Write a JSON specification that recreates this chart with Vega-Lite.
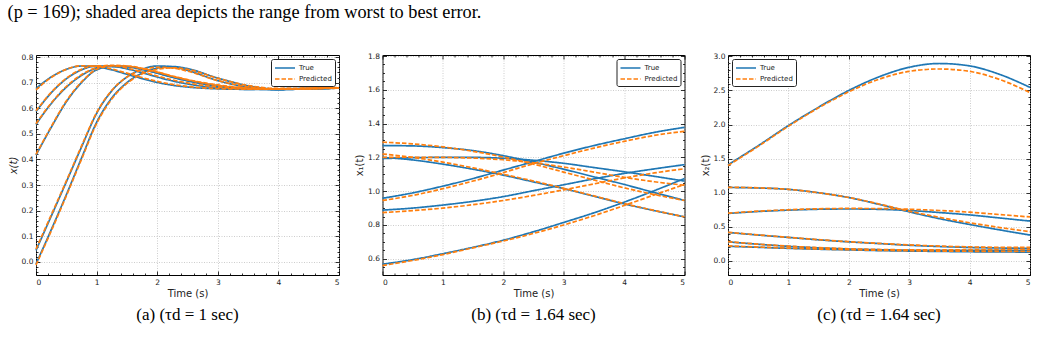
{
"$schema": "https://vega.github.io/schema/vega-lite/v6.json",
"background": "white",
"padding": {"left": 7, "top": 2, "right": 5, "bottom": 3},
"title": {"text": "(p = 169); shaded area depicts the range from worst to best error.", "anchor": "start", "font": "Liberation Serif", "fontSize": 18.3, "fontWeight": "normal", "color": "#000", "offset": 29.7},
"config": {
  "view": {"stroke": "#000", "strokeWidth": 1},
  "font": "DejaVu Sans",
  "axis": {"labelFont": "DejaVu Sans", "labelFontSize": 7.5, "labelColor": "#222", "titleFont": "DejaVu Sans", "titleFontSize": 10, "titleFontWeight": "normal", "titleColor": "#222", "tickSize": -4, "tickColor": "#000", "tickWidth": 0.8, "domain": false, "gridColor": "#b0b0b0", "gridDash": [1, 1.5], "gridWidth": 0.8, "gridOpacity": 0.8, "labelPadding": 7, "titlePadding": 3},
  "legend": {"offset": 4, "fillColor": "white", "strokeColor": "#222", "strokeWidth": 1, "cornerRadius": 2, "padding": 3, "labelFont": "DejaVu Sans", "labelFontSize": 7, "labelColor": "#222", "symbolType": "M-1,0H3", "symbolSize": 100, "symbolStrokeWidth": 1.6, "labelOffset": 13, "rowPadding": 1},
  "line": {"strokeWidth": 1.7, "interpolate": "monotone"}
},
"datasets": {
"a": [
{"c":1,"s":"True","t":0,"v":0.677},{"c":1,"s":"True","t":0.25,"v":0.722},{"c":1,"s":"True","t":0.5,"v":0.752},{"c":1,"s":"True","t":0.75,"v":0.765},{"c":1,"s":"True","t":1,"v":0.762},{"c":1,"s":"True","t":1.25,"v":0.750},{"c":1,"s":"True","t":1.5,"v":0.733},{"c":1,"s":"True","t":1.75,"v":0.716},{"c":1,"s":"True","t":2,"v":0.701},{"c":1,"s":"True","t":2.25,"v":0.690},{"c":1,"s":"True","t":2.5,"v":0.683},{"c":1,"s":"True","t":3,"v":0.676},{"c":1,"s":"True","t":3.5,"v":0.674},{"c":1,"s":"True","t":4,"v":0.676},{"c":1,"s":"True","t":4.5,"v":0.678},{"c":1,"s":"True","t":5,"v":0.680},
{"c":2,"s":"True","t":0,"v":0.587},{"c":2,"s":"True","t":0.25,"v":0.660},{"c":2,"s":"True","t":0.5,"v":0.715},{"c":2,"s":"True","t":0.75,"v":0.750},{"c":2,"s":"True","t":1,"v":0.765},{"c":2,"s":"True","t":1.25,"v":0.764},{"c":2,"s":"True","t":1.5,"v":0.754},{"c":2,"s":"True","t":1.75,"v":0.739},{"c":2,"s":"True","t":2,"v":0.722},{"c":2,"s":"True","t":2.25,"v":0.707},{"c":2,"s":"True","t":2.5,"v":0.695},{"c":2,"s":"True","t":3,"v":0.680},{"c":2,"s":"True","t":3.5,"v":0.674},{"c":2,"s":"True","t":4,"v":0.674},{"c":2,"s":"True","t":4.5,"v":0.677},{"c":2,"s":"True","t":5,"v":0.679},
{"c":3,"s":"True","t":0,"v":0.537},{"c":3,"s":"True","t":0.25,"v":0.618},{"c":3,"s":"True","t":0.5,"v":0.682},{"c":3,"s":"True","t":0.75,"v":0.728},{"c":3,"s":"True","t":1,"v":0.757},{"c":3,"s":"True","t":1.25,"v":0.766},{"c":3,"s":"True","t":1.5,"v":0.763},{"c":3,"s":"True","t":1.75,"v":0.752},{"c":3,"s":"True","t":2,"v":0.737},{"c":3,"s":"True","t":2.25,"v":0.721},{"c":3,"s":"True","t":2.5,"v":0.707},{"c":3,"s":"True","t":3,"v":0.686},{"c":3,"s":"True","t":3.5,"v":0.676},{"c":3,"s":"True","t":4,"v":0.673},{"c":3,"s":"True","t":4.5,"v":0.676},{"c":3,"s":"True","t":5,"v":0.679},
{"c":4,"s":"True","t":0,"v":0.417},{"c":4,"s":"True","t":0.25,"v":0.525},{"c":4,"s":"True","t":0.5,"v":0.625},{"c":4,"s":"True","t":0.75,"v":0.700},{"c":4,"s":"True","t":1,"v":0.750},{"c":4,"s":"True","t":1.25,"v":0.763},{"c":4,"s":"True","t":1.5,"v":0.762},{"c":4,"s":"True","t":1.75,"v":0.752},{"c":4,"s":"True","t":2,"v":0.738},{"c":4,"s":"True","t":2.25,"v":0.722},{"c":4,"s":"True","t":2.5,"v":0.708},{"c":4,"s":"True","t":3,"v":0.688},{"c":4,"s":"True","t":3.5,"v":0.677},{"c":4,"s":"True","t":4,"v":0.674},{"c":4,"s":"True","t":4.5,"v":0.676},{"c":4,"s":"True","t":5,"v":0.679},
{"c":5,"s":"True","t":0,"v":0.045},{"c":5,"s":"True","t":0.25,"v":0.178},{"c":5,"s":"True","t":0.5,"v":0.312},{"c":5,"s":"True","t":0.75,"v":0.448},{"c":5,"s":"True","t":1,"v":0.580},{"c":5,"s":"True","t":1.25,"v":0.668},{"c":5,"s":"True","t":1.5,"v":0.722},{"c":5,"s":"True","t":1.75,"v":0.752},{"c":5,"s":"True","t":2,"v":0.765},{"c":5,"s":"True","t":2.25,"v":0.762},{"c":5,"s":"True","t":2.5,"v":0.748},{"c":5,"s":"True","t":3,"v":0.708},{"c":5,"s":"True","t":3.5,"v":0.682},{"c":5,"s":"True","t":4,"v":0.673},{"c":5,"s":"True","t":4.5,"v":0.676},{"c":5,"s":"True","t":5,"v":0.680},
{"c":6,"s":"True","t":0,"v":-0.008},{"c":6,"s":"True","t":0.25,"v":0.125},{"c":6,"s":"True","t":0.5,"v":0.262},{"c":6,"s":"True","t":0.75,"v":0.405},{"c":6,"s":"True","t":1,"v":0.545},{"c":6,"s":"True","t":1.25,"v":0.640},{"c":6,"s":"True","t":1.5,"v":0.700},{"c":6,"s":"True","t":1.75,"v":0.737},{"c":6,"s":"True","t":2,"v":0.757},{"c":6,"s":"True","t":2.25,"v":0.763},{"c":6,"s":"True","t":2.5,"v":0.755},{"c":6,"s":"True","t":3,"v":0.718},{"c":6,"s":"True","t":3.5,"v":0.688},{"c":6,"s":"True","t":4,"v":0.675},{"c":6,"s":"True","t":4.5,"v":0.675},{"c":6,"s":"True","t":5,"v":0.679},
{"c":1,"s":"Predicted","t":0,"v":0.672},{"c":1,"s":"Predicted","t":0.25,"v":0.720},{"c":1,"s":"Predicted","t":0.5,"v":0.752},{"c":1,"s":"Predicted","t":0.75,"v":0.766},{"c":1,"s":"Predicted","t":1,"v":0.764},{"c":1,"s":"Predicted","t":1.25,"v":0.753},{"c":1,"s":"Predicted","t":1.5,"v":0.737},{"c":1,"s":"Predicted","t":1.75,"v":0.720},{"c":1,"s":"Predicted","t":2,"v":0.705},{"c":1,"s":"Predicted","t":2.25,"v":0.693},{"c":1,"s":"Predicted","t":2.5,"v":0.685},{"c":1,"s":"Predicted","t":3,"v":0.677},{"c":1,"s":"Predicted","t":3.5,"v":0.675},{"c":1,"s":"Predicted","t":4,"v":0.677},{"c":1,"s":"Predicted","t":4.5,"v":0.679},{"c":1,"s":"Predicted","t":5,"v":0.681},
{"c":2,"s":"Predicted","t":0,"v":0.590},{"c":2,"s":"Predicted","t":0.25,"v":0.662},{"c":2,"s":"Predicted","t":0.5,"v":0.717},{"c":2,"s":"Predicted","t":0.75,"v":0.752},{"c":2,"s":"Predicted","t":1,"v":0.766},{"c":2,"s":"Predicted","t":1.25,"v":0.766},{"c":2,"s":"Predicted","t":1.5,"v":0.757},{"c":2,"s":"Predicted","t":1.75,"v":0.742},{"c":2,"s":"Predicted","t":2,"v":0.726},{"c":2,"s":"Predicted","t":2.25,"v":0.711},{"c":2,"s":"Predicted","t":2.5,"v":0.699},{"c":2,"s":"Predicted","t":3,"v":0.683},{"c":2,"s":"Predicted","t":3.5,"v":0.676},{"c":2,"s":"Predicted","t":4,"v":0.675},{"c":2,"s":"Predicted","t":4.5,"v":0.677},{"c":2,"s":"Predicted","t":5,"v":0.680},
{"c":3,"s":"Predicted","t":0,"v":0.540},{"c":3,"s":"Predicted","t":0.25,"v":0.620},{"c":3,"s":"Predicted","t":0.5,"v":0.685},{"c":3,"s":"Predicted","t":0.75,"v":0.731},{"c":3,"s":"Predicted","t":1,"v":0.759},{"c":3,"s":"Predicted","t":1.25,"v":0.768},{"c":3,"s":"Predicted","t":1.5,"v":0.765},{"c":3,"s":"Predicted","t":1.75,"v":0.755},{"c":3,"s":"Predicted","t":2,"v":0.741},{"c":3,"s":"Predicted","t":2.25,"v":0.725},{"c":3,"s":"Predicted","t":2.5,"v":0.711},{"c":3,"s":"Predicted","t":3,"v":0.689},{"c":3,"s":"Predicted","t":3.5,"v":0.678},{"c":3,"s":"Predicted","t":4,"v":0.675},{"c":3,"s":"Predicted","t":4.5,"v":0.677},{"c":3,"s":"Predicted","t":5,"v":0.680},
{"c":4,"s":"Predicted","t":0,"v":0.420},{"c":4,"s":"Predicted","t":0.25,"v":0.528},{"c":4,"s":"Predicted","t":0.5,"v":0.628},{"c":4,"s":"Predicted","t":0.75,"v":0.703},{"c":4,"s":"Predicted","t":1,"v":0.752},{"c":4,"s":"Predicted","t":1.25,"v":0.765},{"c":4,"s":"Predicted","t":1.5,"v":0.765},{"c":4,"s":"Predicted","t":1.75,"v":0.756},{"c":4,"s":"Predicted","t":2,"v":0.742},{"c":4,"s":"Predicted","t":2.25,"v":0.726},{"c":4,"s":"Predicted","t":2.5,"v":0.712},{"c":4,"s":"Predicted","t":3,"v":0.691},{"c":4,"s":"Predicted","t":3.5,"v":0.679},{"c":4,"s":"Predicted","t":4,"v":0.675},{"c":4,"s":"Predicted","t":4.5,"v":0.677},{"c":4,"s":"Predicted","t":5,"v":0.680},
{"c":5,"s":"Predicted","t":0,"v":0.050},{"c":5,"s":"Predicted","t":0.25,"v":0.183},{"c":5,"s":"Predicted","t":0.5,"v":0.316},{"c":5,"s":"Predicted","t":0.75,"v":0.452},{"c":5,"s":"Predicted","t":1,"v":0.583},{"c":5,"s":"Predicted","t":1.25,"v":0.670},{"c":5,"s":"Predicted","t":1.5,"v":0.722},{"c":5,"s":"Predicted","t":1.75,"v":0.750},{"c":5,"s":"Predicted","t":2,"v":0.760},{"c":5,"s":"Predicted","t":2.25,"v":0.757},{"c":5,"s":"Predicted","t":2.5,"v":0.745},{"c":5,"s":"Predicted","t":3,"v":0.708},{"c":5,"s":"Predicted","t":3.5,"v":0.684},{"c":5,"s":"Predicted","t":4,"v":0.675},{"c":5,"s":"Predicted","t":4.5,"v":0.677},{"c":5,"s":"Predicted","t":5,"v":0.680},
{"c":6,"s":"Predicted","t":0,"v":-0.012},{"c":6,"s":"Predicted","t":0.25,"v":0.120},{"c":6,"s":"Predicted","t":0.5,"v":0.258},{"c":6,"s":"Predicted","t":0.75,"v":0.400},{"c":6,"s":"Predicted","t":1,"v":0.540},{"c":6,"s":"Predicted","t":1.25,"v":0.636},{"c":6,"s":"Predicted","t":1.5,"v":0.697},{"c":6,"s":"Predicted","t":1.75,"v":0.734},{"c":6,"s":"Predicted","t":2,"v":0.752},{"c":6,"s":"Predicted","t":2.25,"v":0.758},{"c":6,"s":"Predicted","t":2.5,"v":0.752},{"c":6,"s":"Predicted","t":3,"v":0.717},{"c":6,"s":"Predicted","t":3.5,"v":0.689},{"c":6,"s":"Predicted","t":4,"v":0.677},{"c":6,"s":"Predicted","t":4.5,"v":0.676},{"c":6,"s":"Predicted","t":5,"v":0.679}
],
"b": [
{"c":1,"s":"True","t":0,"v":0.958},{"c":1,"s":"True","t":0.5,"v":0.990},{"c":1,"s":"True","t":1,"v":1.030},{"c":1,"s":"True","t":1.5,"v":1.075},{"c":1,"s":"True","t":2,"v":1.125},{"c":1,"s":"True","t":2.5,"v":1.175},{"c":1,"s":"True","t":3,"v":1.225},{"c":1,"s":"True","t":3.5,"v":1.270},{"c":1,"s":"True","t":4,"v":1.310},{"c":1,"s":"True","t":4.5,"v":1.348},{"c":1,"s":"True","t":5,"v":1.378},
{"c":2,"s":"True","t":0,"v":0.888},{"c":2,"s":"True","t":0.5,"v":0.900},{"c":2,"s":"True","t":1,"v":0.918},{"c":2,"s":"True","t":1.5,"v":0.940},{"c":2,"s":"True","t":2,"v":0.968},{"c":2,"s":"True","t":2.5,"v":1.003},{"c":2,"s":"True","t":3,"v":1.038},{"c":2,"s":"True","t":3.5,"v":1.073},{"c":2,"s":"True","t":4,"v":1.105},{"c":2,"s":"True","t":4.5,"v":1.132},{"c":2,"s":"True","t":5,"v":1.157},
{"c":3,"s":"True","t":0,"v":0.568},{"c":3,"s":"True","t":0.5,"v":0.595},{"c":3,"s":"True","t":1,"v":0.630},{"c":3,"s":"True","t":1.5,"v":0.668},{"c":3,"s":"True","t":2,"v":0.710},{"c":3,"s":"True","t":2.5,"v":0.760},{"c":3,"s":"True","t":3,"v":0.815},{"c":3,"s":"True","t":3.5,"v":0.872},{"c":3,"s":"True","t":4,"v":0.935},{"c":3,"s":"True","t":4.5,"v":1.003},{"c":3,"s":"True","t":5,"v":1.075},
{"c":4,"s":"True","t":0,"v":1.270},{"c":4,"s":"True","t":0.5,"v":1.268},{"c":4,"s":"True","t":1,"v":1.258},{"c":4,"s":"True","t":1.5,"v":1.240},{"c":4,"s":"True","t":2,"v":1.210},{"c":4,"s":"True","t":2.5,"v":1.172},{"c":4,"s":"True","t":3,"v":1.130},{"c":4,"s":"True","t":3.5,"v":1.085},{"c":4,"s":"True","t":4,"v":1.040},{"c":4,"s":"True","t":4.5,"v":0.992},{"c":4,"s":"True","t":5,"v":0.945},
{"c":5,"s":"True","t":0,"v":1.193},{"c":5,"s":"True","t":0.5,"v":1.198},{"c":5,"s":"True","t":1,"v":1.200},{"c":5,"s":"True","t":1.5,"v":1.200},{"c":5,"s":"True","t":2,"v":1.195},{"c":5,"s":"True","t":2.5,"v":1.183},{"c":5,"s":"True","t":3,"v":1.165},{"c":5,"s":"True","t":3.5,"v":1.140},{"c":5,"s":"True","t":4,"v":1.115},{"c":5,"s":"True","t":4.5,"v":1.088},{"c":5,"s":"True","t":5,"v":1.060},
{"c":6,"s":"True","t":0,"v":1.200},{"c":6,"s":"True","t":0.5,"v":1.185},{"c":6,"s":"True","t":1,"v":1.160},{"c":6,"s":"True","t":1.5,"v":1.130},{"c":6,"s":"True","t":2,"v":1.095},{"c":6,"s":"True","t":2.5,"v":1.055},{"c":6,"s":"True","t":3,"v":1.015},{"c":6,"s":"True","t":3.5,"v":0.970},{"c":6,"s":"True","t":4,"v":0.925},{"c":6,"s":"True","t":4.5,"v":0.885},{"c":6,"s":"True","t":5,"v":0.848},
{"c":1,"s":"Predicted","t":0,"v":0.945},{"c":1,"s":"Predicted","t":0.5,"v":0.975},{"c":1,"s":"Predicted","t":1,"v":1.015},{"c":1,"s":"Predicted","t":1.5,"v":1.060},{"c":1,"s":"Predicted","t":2,"v":1.110},{"c":1,"s":"Predicted","t":2.5,"v":1.163},{"c":1,"s":"Predicted","t":3,"v":1.210},{"c":1,"s":"Predicted","t":3.5,"v":1.255},{"c":1,"s":"Predicted","t":4,"v":1.295},{"c":1,"s":"Predicted","t":4.5,"v":1.330},{"c":1,"s":"Predicted","t":5,"v":1.355},
{"c":2,"s":"Predicted","t":0,"v":0.873},{"c":2,"s":"Predicted","t":0.5,"v":0.885},{"c":2,"s":"Predicted","t":1,"v":0.900},{"c":2,"s":"Predicted","t":1.5,"v":0.920},{"c":2,"s":"Predicted","t":2,"v":0.945},{"c":2,"s":"Predicted","t":2.5,"v":0.975},{"c":2,"s":"Predicted","t":3,"v":1.008},{"c":2,"s":"Predicted","t":3.5,"v":1.043},{"c":2,"s":"Predicted","t":4,"v":1.078},{"c":2,"s":"Predicted","t":4.5,"v":1.108},{"c":2,"s":"Predicted","t":5,"v":1.133},
{"c":3,"s":"Predicted","t":0,"v":0.560},{"c":3,"s":"Predicted","t":0.5,"v":0.590},{"c":3,"s":"Predicted","t":1,"v":0.625},{"c":3,"s":"Predicted","t":1.5,"v":0.665},{"c":3,"s":"Predicted","t":2,"v":0.705},{"c":3,"s":"Predicted","t":2.5,"v":0.750},{"c":3,"s":"Predicted","t":3,"v":0.800},{"c":3,"s":"Predicted","t":3.5,"v":0.855},{"c":3,"s":"Predicted","t":4,"v":0.915},{"c":3,"s":"Predicted","t":4.5,"v":0.978},{"c":3,"s":"Predicted","t":5,"v":1.040},
{"c":4,"s":"Predicted","t":0,"v":1.290},{"c":4,"s":"Predicted","t":0.5,"v":1.280},{"c":4,"s":"Predicted","t":1,"v":1.262},{"c":4,"s":"Predicted","t":1.5,"v":1.236},{"c":4,"s":"Predicted","t":2,"v":1.202},{"c":4,"s":"Predicted","t":2.5,"v":1.160},{"c":4,"s":"Predicted","t":3,"v":1.113},{"c":4,"s":"Predicted","t":3.5,"v":1.066},{"c":4,"s":"Predicted","t":4,"v":1.020},{"c":4,"s":"Predicted","t":4.5,"v":0.980},{"c":4,"s":"Predicted","t":5,"v":0.945},
{"c":5,"s":"Predicted","t":0,"v":1.200},{"c":5,"s":"Predicted","t":0.5,"v":1.201},{"c":5,"s":"Predicted","t":1,"v":1.200},{"c":5,"s":"Predicted","t":1.5,"v":1.196},{"c":5,"s":"Predicted","t":2,"v":1.186},{"c":5,"s":"Predicted","t":2.5,"v":1.168},{"c":5,"s":"Predicted","t":3,"v":1.143},{"c":5,"s":"Predicted","t":3.5,"v":1.113},{"c":5,"s":"Predicted","t":4,"v":1.082},{"c":5,"s":"Predicted","t":4.5,"v":1.056},{"c":5,"s":"Predicted","t":5,"v":1.035},
{"c":6,"s":"Predicted","t":0,"v":1.220},{"c":6,"s":"Predicted","t":0.5,"v":1.200},{"c":6,"s":"Predicted","t":1,"v":1.172},{"c":6,"s":"Predicted","t":1.5,"v":1.138},{"c":6,"s":"Predicted","t":2,"v":1.100},{"c":6,"s":"Predicted","t":2.5,"v":1.060},{"c":6,"s":"Predicted","t":3,"v":1.017},{"c":6,"s":"Predicted","t":3.5,"v":0.972},{"c":6,"s":"Predicted","t":4,"v":0.927},{"c":6,"s":"Predicted","t":4.5,"v":0.886},{"c":6,"s":"Predicted","t":5,"v":0.848}
],
"c": [
{"c":1,"s":"True","t":0,"v":1.410},{"c":1,"s":"True","t":0.5,"v":1.690},{"c":1,"s":"True","t":1,"v":1.985},{"c":1,"s":"True","t":1.5,"v":2.255},{"c":1,"s":"True","t":2,"v":2.500},{"c":1,"s":"True","t":2.5,"v":2.700},{"c":1,"s":"True","t":3,"v":2.840},{"c":1,"s":"True","t":3.5,"v":2.895},{"c":1,"s":"True","t":4,"v":2.860},{"c":1,"s":"True","t":4.5,"v":2.735},{"c":1,"s":"True","t":5,"v":2.545},
{"c":2,"s":"True","t":0,"v":1.078},{"c":2,"s":"True","t":0.5,"v":1.070},{"c":2,"s":"True","t":1,"v":1.050},{"c":2,"s":"True","t":1.5,"v":1.000},{"c":2,"s":"True","t":2,"v":0.930},{"c":2,"s":"True","t":2.5,"v":0.830},{"c":2,"s":"True","t":3,"v":0.720},{"c":2,"s":"True","t":3.5,"v":0.620},{"c":2,"s":"True","t":4,"v":0.535},{"c":2,"s":"True","t":4.5,"v":0.455},{"c":2,"s":"True","t":5,"v":0.380},
{"c":3,"s":"True","t":0,"v":0.697},{"c":3,"s":"True","t":0.5,"v":0.725},{"c":3,"s":"True","t":1,"v":0.745},{"c":3,"s":"True","t":1.5,"v":0.758},{"c":3,"s":"True","t":2,"v":0.762},{"c":3,"s":"True","t":2.5,"v":0.757},{"c":3,"s":"True","t":3,"v":0.740},{"c":3,"s":"True","t":3.5,"v":0.710},{"c":3,"s":"True","t":4,"v":0.675},{"c":3,"s":"True","t":4.5,"v":0.630},{"c":3,"s":"True","t":5,"v":0.585},
{"c":4,"s":"True","t":0,"v":0.417},{"c":4,"s":"True","t":0.5,"v":0.380},{"c":4,"s":"True","t":1,"v":0.345},{"c":4,"s":"True","t":1.5,"v":0.310},{"c":4,"s":"True","t":2,"v":0.280},{"c":4,"s":"True","t":2.5,"v":0.255},{"c":4,"s":"True","t":3,"v":0.230},{"c":4,"s":"True","t":3.5,"v":0.212},{"c":4,"s":"True","t":4,"v":0.198},{"c":4,"s":"True","t":4.5,"v":0.190},{"c":4,"s":"True","t":5,"v":0.185},
{"c":5,"s":"True","t":0,"v":0.280},{"c":5,"s":"True","t":0.5,"v":0.245},{"c":5,"s":"True","t":1,"v":0.215},{"c":5,"s":"True","t":1.5,"v":0.192},{"c":5,"s":"True","t":2,"v":0.175},{"c":5,"s":"True","t":2.5,"v":0.165},{"c":5,"s":"True","t":3,"v":0.158},{"c":5,"s":"True","t":3.5,"v":0.155},{"c":5,"s":"True","t":4,"v":0.155},{"c":5,"s":"True","t":4.5,"v":0.155},{"c":5,"s":"True","t":5,"v":0.157},
{"c":6,"s":"True","t":0,"v":0.215},{"c":6,"s":"True","t":0.5,"v":0.200},{"c":6,"s":"True","t":1,"v":0.185},{"c":6,"s":"True","t":1.5,"v":0.172},{"c":6,"s":"True","t":2,"v":0.162},{"c":6,"s":"True","t":2.5,"v":0.152},{"c":6,"s":"True","t":3,"v":0.145},{"c":6,"s":"True","t":3.5,"v":0.140},{"c":6,"s":"True","t":4,"v":0.135},{"c":6,"s":"True","t":4.5,"v":0.132},{"c":6,"s":"True","t":5,"v":0.130},
{"c":1,"s":"Predicted","t":0,"v":1.400},{"c":1,"s":"Predicted","t":0.5,"v":1.680},{"c":1,"s":"Predicted","t":1,"v":1.975},{"c":1,"s":"Predicted","t":1.5,"v":2.245},{"c":1,"s":"Predicted","t":2,"v":2.480},{"c":1,"s":"Predicted","t":2.5,"v":2.665},{"c":1,"s":"Predicted","t":3,"v":2.780},{"c":1,"s":"Predicted","t":3.5,"v":2.815},{"c":1,"s":"Predicted","t":4,"v":2.780},{"c":1,"s":"Predicted","t":4.5,"v":2.660},{"c":1,"s":"Predicted","t":5,"v":2.470},
{"c":2,"s":"Predicted","t":0,"v":1.080},{"c":2,"s":"Predicted","t":0.5,"v":1.072},{"c":2,"s":"Predicted","t":1,"v":1.050},{"c":2,"s":"Predicted","t":1.5,"v":1.000},{"c":2,"s":"Predicted","t":2,"v":0.930},{"c":2,"s":"Predicted","t":2.5,"v":0.835},{"c":2,"s":"Predicted","t":3,"v":0.730},{"c":2,"s":"Predicted","t":3.5,"v":0.640},{"c":2,"s":"Predicted","t":4,"v":0.560},{"c":2,"s":"Predicted","t":4.5,"v":0.490},{"c":2,"s":"Predicted","t":5,"v":0.430},
{"c":3,"s":"Predicted","t":0,"v":0.700},{"c":3,"s":"Predicted","t":0.5,"v":0.730},{"c":3,"s":"Predicted","t":1,"v":0.750},{"c":3,"s":"Predicted","t":1.5,"v":0.765},{"c":3,"s":"Predicted","t":2,"v":0.770},{"c":3,"s":"Predicted","t":2.5,"v":0.768},{"c":3,"s":"Predicted","t":3,"v":0.758},{"c":3,"s":"Predicted","t":3.5,"v":0.740},{"c":3,"s":"Predicted","t":4,"v":0.715},{"c":3,"s":"Predicted","t":4.5,"v":0.680},{"c":3,"s":"Predicted","t":5,"v":0.645},
{"c":4,"s":"Predicted","t":0,"v":0.420},{"c":4,"s":"Predicted","t":0.5,"v":0.382},{"c":4,"s":"Predicted","t":1,"v":0.346},{"c":4,"s":"Predicted","t":1.5,"v":0.312},{"c":4,"s":"Predicted","t":2,"v":0.282},{"c":4,"s":"Predicted","t":2.5,"v":0.258},{"c":4,"s":"Predicted","t":3,"v":0.235},{"c":4,"s":"Predicted","t":3.5,"v":0.218},{"c":4,"s":"Predicted","t":4,"v":0.206},{"c":4,"s":"Predicted","t":4.5,"v":0.200},{"c":4,"s":"Predicted","t":5,"v":0.200},
{"c":5,"s":"Predicted","t":0,"v":0.283},{"c":5,"s":"Predicted","t":0.5,"v":0.247},{"c":5,"s":"Predicted","t":1,"v":0.217},{"c":5,"s":"Predicted","t":1.5,"v":0.195},{"c":5,"s":"Predicted","t":2,"v":0.178},{"c":5,"s":"Predicted","t":2.5,"v":0.168},{"c":5,"s":"Predicted","t":3,"v":0.163},{"c":5,"s":"Predicted","t":3.5,"v":0.162},{"c":5,"s":"Predicted","t":4,"v":0.165},{"c":5,"s":"Predicted","t":4.5,"v":0.168},{"c":5,"s":"Predicted","t":5,"v":0.172},
{"c":6,"s":"Predicted","t":0,"v":0.220},{"c":6,"s":"Predicted","t":0.5,"v":0.204},{"c":6,"s":"Predicted","t":1,"v":0.188},{"c":6,"s":"Predicted","t":1.5,"v":0.175},{"c":6,"s":"Predicted","t":2,"v":0.165},{"c":6,"s":"Predicted","t":2.5,"v":0.156},{"c":6,"s":"Predicted","t":3,"v":0.150},{"c":6,"s":"Predicted","t":3.5,"v":0.145},{"c":6,"s":"Predicted","t":4,"v":0.142},{"c":6,"s":"Predicted","t":4.5,"v":0.140},{"c":6,"s":"Predicted","t":5,"v":0.140}
]
},
"hconcat": [
{
  "width": 303, "height": 220,
  "title": {"text": "(a) (τd = 1 sec)", "orient": "bottom", "font": "Liberation Serif", "fontSize": 17, "fontWeight": "normal", "color": "#000", "offset": 8.5},
  "data": {"name": "a"},
  "layer": [
    {"transform": [{"filter": "datum.s == 'True'"}],
     "mark": {"type": "line"},
     "encoding": {
       "x": {"field": "t", "type": "quantitative", "scale": {"domain": [0, 5], "nice": false, "zero": false}, "axis": {"orient": "bottom", "values": [0,1,2,3,4,5], "title": "Time (s)", "grid": true}},
       "y": {"field": "v", "type": "quantitative", "scale": {"domain": [-0.051, 0.808], "nice": false, "zero": false}, "axis": {"orient": "left", "values": [0,0.1,0.2,0.3,0.4,0.5,0.6,0.7,0.8], "format": ".1f", "title": "x(t)", "titleFontStyle": "italic", "grid": true}},
       "color": {"field": "s", "type": "nominal", "scale": {"domain": ["True", "Predicted"], "range": ["#1f77b4", "#ff7f0e"]}, "legend": {"title": null, "orient": "top-right"}},
       "strokeDash": {"field": "s", "type": "nominal", "scale": {"domain": ["True", "Predicted"], "range": [[1, 0], [4.5, 2]]}, "legend": {"title": null, "orient": "top-right"}},
       "detail": {"field": "c", "type": "nominal"}
     }},
    {"transform": [{"filter": "datum.s == 'Predicted'"}],
     "mark": {"type": "line"},
     "encoding": {
       "x": {"field": "t", "type": "quantitative", "axis": {"orient": "top", "values": [0,1,2,3,4,5], "labels": false, "title": null, "grid": false}},
       "y": {"field": "v", "type": "quantitative", "axis": {"orient": "right", "values": [0,0.1,0.2,0.3,0.4,0.5,0.6,0.7,0.8], "labels": false, "title": null, "grid": false}},
       "color": {"field": "s", "type": "nominal"},
       "strokeDash": {"field": "s", "type": "nominal"},
       "detail": {"field": "c", "type": "nominal"}
     }},
    {"transform": [{"filter": "datum.s == 'True'"}],
     "mark": {"type": "line", "opacity": 0},
     "encoding": {
       "x": {"field": "t", "type": "quantitative", "axis": {"orient": "bottom", "values": [0.2,0.4,0.6,0.8,1.2,1.4,1.6,1.8,2.2,2.4,2.6,2.8,3.2,3.4,3.6,3.8,4.2,4.4,4.6,4.8], "labels": false, "title": null, "grid": false, "tickSize": -2}},
       "y": {"field": "v", "type": "quantitative", "axis": {"orient": "left", "values": [-0.04,-0.02,0.02,0.04,0.06,0.08,0.12,0.14,0.16,0.18,0.22,0.24,0.26,0.28,0.32,0.34,0.36,0.38,0.42,0.44,0.46,0.48,0.52,0.54,0.56,0.58,0.62,0.64,0.66,0.68,0.72,0.74,0.76,0.78], "labels": false, "title": null, "grid": false, "tickSize": -2}},
       "detail": {"field": "c", "type": "nominal"}
     }},
    {"transform": [{"filter": "datum.s == 'True'"}],
     "mark": {"type": "line", "opacity": 0},
     "encoding": {
       "x": {"field": "t", "type": "quantitative", "axis": {"orient": "top", "values": [0.2,0.4,0.6,0.8,1.2,1.4,1.6,1.8,2.2,2.4,2.6,2.8,3.2,3.4,3.6,3.8,4.2,4.4,4.6,4.8], "labels": false, "title": null, "grid": false, "tickSize": -2}},
       "y": {"field": "v", "type": "quantitative", "axis": {"orient": "right", "values": [-0.04,-0.02,0.02,0.04,0.06,0.08,0.12,0.14,0.16,0.18,0.22,0.24,0.26,0.28,0.32,0.34,0.36,0.38,0.42,0.44,0.46,0.48,0.52,0.54,0.56,0.58,0.62,0.64,0.66,0.68,0.72,0.74,0.76,0.78], "labels": false, "title": null, "grid": false, "tickSize": -2}},
       "detail": {"field": "c", "type": "nominal"}
     }}
  ],
  "resolve": {"axis": {"x": "independent", "y": "independent"}}
},
{
  "width": 302, "height": 220,
  "title": {"text": "(b) (τd = 1.64 sec)", "orient": "bottom", "font": "Liberation Serif", "fontSize": 17, "fontWeight": "normal", "color": "#000", "offset": 8.5},
  "data": {"name": "b"},
  "layer": [
    {"transform": [{"filter": "datum.s == 'True'"}],
     "mark": {"type": "line"},
     "encoding": {
       "x": {"field": "t", "type": "quantitative", "scale": {"domain": [0, 5], "nice": false, "zero": false}, "axis": {"orient": "bottom", "values": [0,1,2,3,4,5], "title": "Time (s)", "grid": true}},
       "y": {"field": "v", "type": "quantitative", "scale": {"domain": [0.504, 1.806], "nice": false, "zero": false}, "axis": {"orient": "left", "values": [0.6,0.8,1.0,1.2,1.4,1.6,1.8], "format": ".1f", "title": "x₁(t)", "grid": true}},
       "color": {"field": "s", "type": "nominal", "scale": {"domain": ["True", "Predicted"], "range": ["#1f77b4", "#ff7f0e"]}, "legend": {"title": null, "orient": "top-right"}},
       "strokeDash": {"field": "s", "type": "nominal", "scale": {"domain": ["True", "Predicted"], "range": [[1, 0], [4.5, 2]]}, "legend": {"title": null, "orient": "top-right"}},
       "detail": {"field": "c", "type": "nominal"}
     }},
    {"transform": [{"filter": "datum.s == 'Predicted'"}],
     "mark": {"type": "line"},
     "encoding": {
       "x": {"field": "t", "type": "quantitative", "axis": {"orient": "top", "values": [0,1,2,3,4,5], "labels": false, "title": null, "grid": false}},
       "y": {"field": "v", "type": "quantitative", "axis": {"orient": "right", "values": [0.6,0.8,1.0,1.2,1.4,1.6,1.8], "labels": false, "title": null, "grid": false}},
       "color": {"field": "s", "type": "nominal"},
       "strokeDash": {"field": "s", "type": "nominal"},
       "detail": {"field": "c", "type": "nominal"}
     }},
    {"transform": [{"filter": "datum.s == 'True'"}],
     "mark": {"type": "line", "opacity": 0},
     "encoding": {
       "x": {"field": "t", "type": "quantitative", "axis": {"orient": "bottom", "values": [0.2,0.4,0.6,0.8,1.2,1.4,1.6,1.8,2.2,2.4,2.6,2.8,3.2,3.4,3.6,3.8,4.2,4.4,4.6,4.8], "labels": false, "title": null, "grid": false, "tickSize": -2}},
       "y": {"field": "v", "type": "quantitative", "axis": {"orient": "left", "values": [0.55,0.65,0.7,0.75,0.85,0.9,0.95,1.05,1.1,1.15,1.25,1.3,1.35,1.45,1.5,1.55,1.65,1.7,1.75], "labels": false, "title": null, "grid": false, "tickSize": -2}},
       "detail": {"field": "c", "type": "nominal"}
     }},
    {"transform": [{"filter": "datum.s == 'True'"}],
     "mark": {"type": "line", "opacity": 0},
     "encoding": {
       "x": {"field": "t", "type": "quantitative", "axis": {"orient": "top", "values": [0.2,0.4,0.6,0.8,1.2,1.4,1.6,1.8,2.2,2.4,2.6,2.8,3.2,3.4,3.6,3.8,4.2,4.4,4.6,4.8], "labels": false, "title": null, "grid": false, "tickSize": -2}},
       "y": {"field": "v", "type": "quantitative", "axis": {"orient": "right", "values": [0.55,0.65,0.7,0.75,0.85,0.9,0.95,1.05,1.1,1.15,1.25,1.3,1.35,1.45,1.5,1.55,1.65,1.7,1.75], "labels": false, "title": null, "grid": false, "tickSize": -2}},
       "detail": {"field": "c", "type": "nominal"}
     }}
  ],
  "resolve": {"axis": {"x": "independent", "y": "independent"}}
},
{
  "width": 302, "height": 220,
  "title": {"text": "(c) (τd = 1.64 sec)", "orient": "bottom", "font": "Liberation Serif", "fontSize": 17, "fontWeight": "normal", "color": "#000", "offset": 8.5},
  "data": {"name": "c"},
  "layer": [
    {"transform": [{"filter": "datum.s == 'True'"}],
     "mark": {"type": "line"},
     "encoding": {
       "x": {"field": "t", "type": "quantitative", "scale": {"domain": [0, 5], "nice": false, "zero": false}, "axis": {"orient": "bottom", "values": [0,1,2,3,4,5], "title": "Time (s)", "grid": true}},
       "y": {"field": "v", "type": "quantitative", "scale": {"domain": [-0.206, 3.02], "nice": false, "zero": false}, "axis": {"orient": "left", "values": [0,0.5,1.0,1.5,2.0,2.5,3.0], "format": ".1f", "title": "x₂(t)", "grid": true}},
       "color": {"field": "s", "type": "nominal", "scale": {"domain": ["True", "Predicted"], "range": ["#1f77b4", "#ff7f0e"]}, "legend": {"title": null, "orient": "top-left"}},
       "strokeDash": {"field": "s", "type": "nominal", "scale": {"domain": ["True", "Predicted"], "range": [[1, 0], [4.5, 2]]}, "legend": {"title": null, "orient": "top-left"}},
       "detail": {"field": "c", "type": "nominal"}
     }},
    {"transform": [{"filter": "datum.s == 'Predicted'"}],
     "mark": {"type": "line"},
     "encoding": {
       "x": {"field": "t", "type": "quantitative", "axis": {"orient": "top", "values": [0,1,2,3,4,5], "labels": false, "title": null, "grid": false}},
       "y": {"field": "v", "type": "quantitative", "axis": {"orient": "right", "values": [0,0.5,1.0,1.5,2.0,2.5,3.0], "labels": false, "title": null, "grid": false}},
       "color": {"field": "s", "type": "nominal"},
       "strokeDash": {"field": "s", "type": "nominal"},
       "detail": {"field": "c", "type": "nominal"}
     }},
    {"transform": [{"filter": "datum.s == 'True'"}],
     "mark": {"type": "line", "opacity": 0},
     "encoding": {
       "x": {"field": "t", "type": "quantitative", "axis": {"orient": "bottom", "values": [0.2,0.4,0.6,0.8,1.2,1.4,1.6,1.8,2.2,2.4,2.6,2.8,3.2,3.4,3.6,3.8,4.2,4.4,4.6,4.8], "labels": false, "title": null, "grid": false, "tickSize": -2}},
       "y": {"field": "v", "type": "quantitative", "axis": {"orient": "left", "values": [-0.2,-0.1,0.1,0.2,0.3,0.4,0.6,0.7,0.8,0.9,1.1,1.2,1.3,1.4,1.6,1.7,1.8,1.9,2.1,2.2,2.3,2.4,2.6,2.7,2.8,2.9], "labels": false, "title": null, "grid": false, "tickSize": -2}},
       "detail": {"field": "c", "type": "nominal"}
     }},
    {"transform": [{"filter": "datum.s == 'True'"}],
     "mark": {"type": "line", "opacity": 0},
     "encoding": {
       "x": {"field": "t", "type": "quantitative", "axis": {"orient": "top", "values": [0.2,0.4,0.6,0.8,1.2,1.4,1.6,1.8,2.2,2.4,2.6,2.8,3.2,3.4,3.6,3.8,4.2,4.4,4.6,4.8], "labels": false, "title": null, "grid": false, "tickSize": -2}},
       "y": {"field": "v", "type": "quantitative", "axis": {"orient": "right", "values": [-0.2,-0.1,0.1,0.2,0.3,0.4,0.6,0.7,0.8,0.9,1.1,1.2,1.3,1.4,1.6,1.7,1.8,1.9,2.1,2.2,2.3,2.4,2.6,2.7,2.8,2.9], "labels": false, "title": null, "grid": false, "tickSize": -2}},
       "detail": {"field": "c", "type": "nominal"}
     }}
  ],
  "resolve": {"axis": {"x": "independent", "y": "independent"}}
}
],
"spacing": 43.5,
"bounds": "flush",
"resolve": {"scale": {"color": "independent", "strokeDash": "independent"}, "legend": {"color": "independent", "strokeDash": "independent"}}
}
